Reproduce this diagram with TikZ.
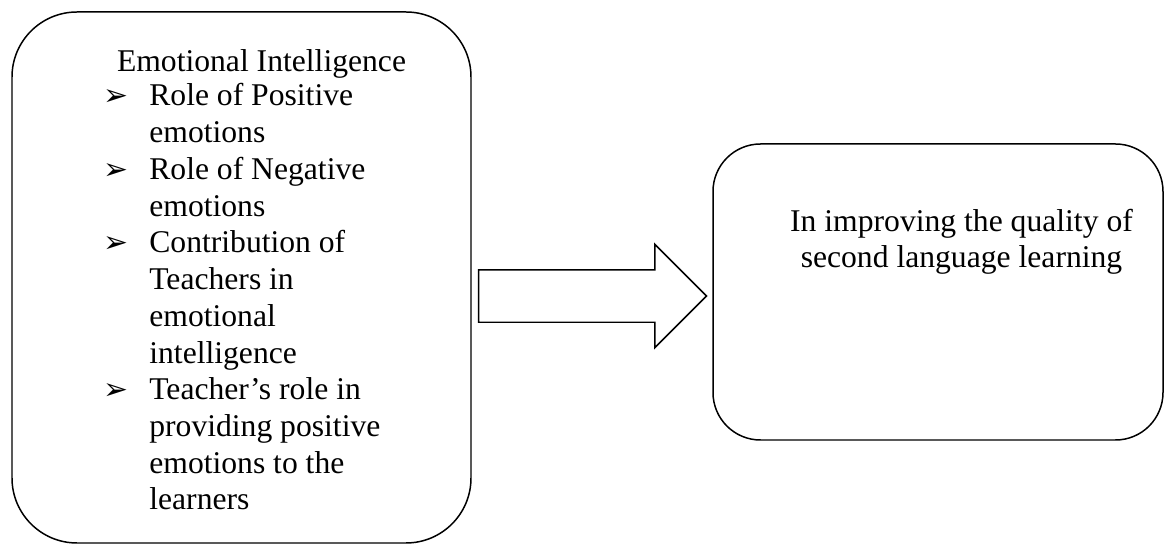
\documentclass[tikz,border=0pt]{standalone}
\usepackage{fontspec}
\setmainfont{Liberation Serif}
\newfontfamily\symfont{DejaVu Sans}
\usetikzlibrary{positioning,shapes.arrows}

\newcommand{\arrowbullet}{{\symfont\fontsize{17}{17}\selectfont ➢}}

\tikzset{
  roundbox/.style={draw, line width=0.85pt, rounded corners=#1, inner sep=0pt},
  blockarrow/.style={draw, line width=0.85pt, single arrow, inner sep=0pt,
    single arrow head extend=0.51cm, minimum height=4.56cm},
  bodytext/.style={font=\fontsize{18}{20.9}\selectfont, inner sep=0pt},
}

\begin{document}
\begin{tikzpicture}
    \useasboundingbox (0,0) rectangle (23.28,10.88);
    % left box: what emotional intelligence covers
    \node[roundbox=1.3cm, minimum width=9.18cm, minimum height=10.62cm] (emo) at (4.83,5.33) {};
    \node[bodytext, anchor=base] (emotitle) at (5.23,9.44) {Emotional Intelligence};
    \node[bodytext, anchor=base west] (emolist) at (2.06,8.76) {%
      \begin{tabular}[t]{@{}p{0.92cm}@{}l@{}}
        \arrowbullet & Role of Positive\\
                     & emotions\\
        \arrowbullet & Role of Negative\\
                     & emotions\\
        \arrowbullet & Contribution of\\
                     & Teachers in\\
                     & emotional\\
                     & intelligence\\
        \arrowbullet & Teacher’s role in\\
                     & providing positive\\
                     & emotions to the\\
                     & learners
      \end{tabular}};
    % right box: the outcome
    \node[roundbox=0.95cm, minimum width=9cm, minimum height=5.92cm] (out) at (18.76,5.04) {};
    \node[bodytext, align=center, anchor=base] (outtext) at (19.23,5.52)
      {In improving the quality of\\second language learning};
    % block arrow, left box to right box (the rule sets the shaft)
    \node[blockarrow, right=0.12cm of emo, yshift=-0.37cm] (arrow) {\rule{0pt}{1.02cm}};
\end{tikzpicture}
\end{document}
